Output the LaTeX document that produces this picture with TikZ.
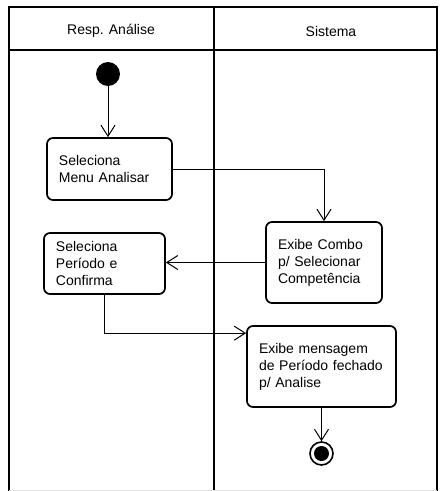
\documentclass[tikz,border=0pt]{standalone}
\usepackage{fontspec}
\setmainfont{Liberation Sans}
\usetikzlibrary{arrows.meta, positioning}

\begin{document}
\begin{tikzpicture}[x=1pt, y=-1pt,
  act/.style={rectangle, draw, line width=1.7pt, rounded corners=6pt, inner xsep=12pt, inner ysep=0pt, align=left, font=\fontsize{14}{17}\selectfont},
  arr/.style={-{Straight Barb[length=11pt, width=14pt, line width=1pt]}, line width=1pt},
  lane/.style={line width=1.7pt},
  hdr/.style={font=\fontsize{14}{17}\selectfont},
  startnode/.style={circle, fill, minimum size=24pt, inner sep=0pt},
  endnode/.style={circle, draw, line width=1.6pt, minimum size=23pt, inner sep=0pt,
    path picture={\fill (path picture bounding box.center) circle (7.5pt);}}]
\useasboundingbox (0, 0) rectangle (440, 491);
\draw[lane] (9, 491) -- (9, 7) -- (437, 7) -- (437, 491);
\draw[lane] (9, 50) -- (437, 50);
\draw[line width=2.6pt] (214, 7) -- (214, 491);
\draw[gray!25] (9, 490) -- (437, 490);
\node[hdr] (resp) at (111, 31) {Resp. Análise};
\node[hdr] (sis) at (331, 31) {Sistema};
\node[startnode] (start) at (108, 74) {};
\node[act, text width=101pt, minimum height=62pt] (menu) at (109.5, 169) {Seleciona\\Menu Analisar};
\node[act, text width=97pt, minimum height=61pt] (periodo) at (104.5, 263.5) {Seleciona\\Período e\\Confirma};
\node[act, text width=92pt, minimum height=81pt] (combo) at (324, 262.5) {Exibe Combo\\p/ Selecionar\\Competência};
\node[act, text width=125pt, minimum height=81pt] (msg) at (321.5, 366.5) {Exibe mensagem\\de Período fechado\\p/ Analise};
\node[endnode] (end) at (321.5, 453.5) {};
\draw[arr] (start) -- (start |- menu.north);
\draw[arr] (menu.east) -| (combo.north);
\draw[arr] (combo.west) -- (combo.west -| periodo.east);
\draw[arr] (periodo.south) |- ([yshift=-8pt]msg.north west);
\draw[arr] (msg.south) -- (end);
\end{tikzpicture}
\end{document}
